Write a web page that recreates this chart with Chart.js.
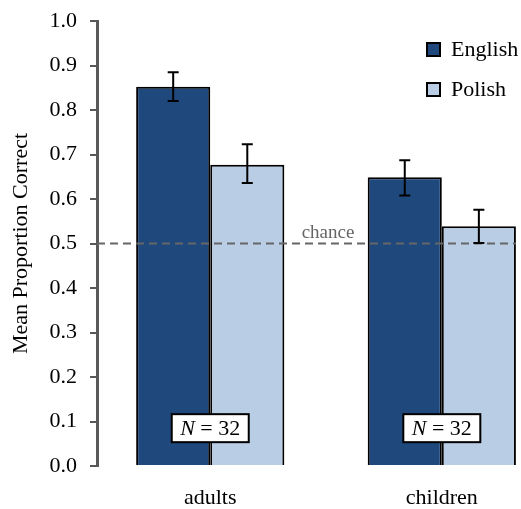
<!DOCTYPE html>
<html>
<head>
<meta charset="utf-8">
<script src="https://cdn.jsdelivr.net/npm/chart.js@4"></script>
<style>
  html, body { margin: 0; padding: 0; background: #fff; }
  #wrap { width: 521px; height: 509px; position: relative; }
</style>
</head>
<body>
<div id="wrap"><canvas id="chart"></canvas></div>
<script>
// data
const categories = ['adults', 'children'];
const seriesNames = ['English', 'Polish'];
const englishMeans = [0.852, 0.649];
const polishMeans = [0.677, 0.539];
const englishLow = [0.820, 0.608];
const englishHigh = [0.885, 0.687];
const polishLow = [0.636, 0.501];
const polishHigh = [0.723, 0.576];
const yTicks = [0, 0.1, 0.2, 0.3, 0.4, 0.5, 0.6, 0.7, 0.8, 0.9, 1.0];
const chanceLevel = 0.5;
const sampleSizes = [32, 32];

const FONT = "'Liberation Serif', 'Times New Roman', serif";
const GREY = '#595959';

function toPoints(vals) {
    return vals.map((v, i) => ({ x: i, y: v }));
}

// error bars, chance line, N boxes and legend drawn on top
const extras = {
    id: 'extras',
    afterDatasetsDraw(chart) {
        const ctx = chart.ctx;
        const xs = chart.scales.x;
        const ys = chart.scales.y;
        const area = chart.chartArea;

        // chance line
        const cy = ys.getPixelForValue(chanceLevel);
        const lastBar = chart.getDatasetMeta(1).data[1];
        ctx.save();
        ctx.strokeStyle = '#666666';
        ctx.lineWidth = 2;
        ctx.setLineDash([8, 5]);
        ctx.beginPath();
        ctx.moveTo(area.left, cy);
        ctx.lineTo(lastBar.x + lastBar.width / 2, cy);
        ctx.stroke();
        ctx.setLineDash([]);
        ctx.fillStyle = '#666666';
        ctx.font = '19px ' + FONT;
        ctx.textAlign = 'center';
        ctx.textBaseline = 'bottom';
        ctx.fillText('chance', 328, cy - 1);
        ctx.restore();

        // error bars
        const lows = [englishLow, polishLow];
        const highs = [englishHigh, polishHigh];
        ctx.save();
        ctx.strokeStyle = '#000';
        ctx.lineWidth = 2;
        for (let d = 0; d < 2; d++) {
            const meta = chart.getDatasetMeta(d);
            meta.data.forEach((bar, i) => {
                const yl = ys.getPixelForValue(lows[d][i]);
                const yh = ys.getPixelForValue(highs[d][i]);
                ctx.beginPath();
                ctx.moveTo(bar.x, yl); ctx.lineTo(bar.x, yh);
                ctx.moveTo(bar.x - 5.5, yl); ctx.lineTo(bar.x + 5.5, yl);
                ctx.moveTo(bar.x - 5.5, yh); ctx.lineTo(bar.x + 5.5, yh);
                ctx.stroke();
            });
        }
        ctx.restore();

        // N = 32 boxes
        ctx.save();
        categories.forEach((c, i) => {
            const x = xs.getPixelForValue(i);
            const y = ys.getPixelForValue(0.085);
            const w = 77, h = 28;
            ctx.fillStyle = '#fff';
            ctx.fillRect(x - w / 2, y - h / 2, w, h);
            ctx.strokeStyle = '#000';
            ctx.lineWidth = 2;
            ctx.strokeRect(x - w / 2, y - h / 2, w, h);
            ctx.fillStyle = '#000';
            ctx.textBaseline = 'middle';
            ctx.textAlign = 'left';
            ctx.font = 'italic 22px ' + FONT;
            const nW = ctx.measureText('N').width;
            ctx.font = '22px ' + FONT;
            const rest = ' = ' + sampleSizes[i];
            const rW = ctx.measureText(rest).width;
            const start = x - (nW + rW) / 2;
            ctx.font = 'italic 22px ' + FONT;
            ctx.fillText('N', start, y + 1);
            ctx.font = '22px ' + FONT;
            ctx.fillText(rest, start + nW, y + 1);
        });
        ctx.restore();

        // legend
        ctx.save();
        const colors = [chart.data.datasets[0].backgroundColor, chart.data.datasets[1].backgroundColor];
        seriesNames.forEach((name, i) => {
            const top = 43 + i * 40;
            ctx.fillStyle = colors[i];
            ctx.fillRect(427, top, 13, 13);
            ctx.strokeStyle = '#000';
            ctx.lineWidth = 2;
            ctx.strokeRect(427, top, 13, 13);
            ctx.fillStyle = '#000';
            ctx.font = '22px ' + FONT;
            ctx.textAlign = 'left';
            ctx.textBaseline = 'middle';
            ctx.fillText(name, 451, top + 7);
        });
        ctx.restore();
    }
};

new Chart(document.getElementById('chart'), {
    type: 'bar',
    data: {
        datasets: [
            {
                label: seriesNames[0],
                data: toPoints(englishMeans),
                backgroundColor: '#1F497D',
                borderColor: '#000',
                borderWidth: 2,
                categoryPercentage: 0.64,
                barPercentage: 1.0
            },
            {
                label: seriesNames[1],
                data: toPoints(polishMeans),
                backgroundColor: '#B9CDE5',
                borderColor: '#000',
                borderWidth: 2,
                categoryPercentage: 0.64,
                barPercentage: 1.0
            }
        ]
    },
    options: {
        responsive: true,
        maintainAspectRatio: false,
        animation: false,
        layout: { padding: { top: 21, right: 3, left: 0, bottom: 0 } },
        plugins: {
            legend: { display: false },
            tooltip: { enabled: false }
        },
        scales: {
            x: {
                type: 'linear',
                min: -0.489,
                max: 1.329,
                offset: false,
                grid: { display: false },
                border: { display: false },
                afterBuildTicks(scale) {
                    scale.ticks = categories.map((c, i) => ({ value: i }));
                },
                afterFit(scale) { scale.height = 43; },
                ticks: {
                    padding: 11,
                    color: '#000',
                    font: { family: FONT, size: 22 },
                    callback: (v) => categories[v]
                }
            },
            y: {
                min: 0,
                max: 1,
                afterBuildTicks(scale) {
                    scale.ticks = yTicks.map(v => ({ value: v }));
                },
                afterFit(scale) { scale.width = 97; },
                grid: {
                    drawOnChartArea: false,
                    drawTicks: true,
                    tickLength: 7,
                    color: GREY,
                    lineWidth: 2
                },
                border: { display: true, color: GREY, width: 3 },
                ticks: {
                    padding: 13,
                    color: '#000',
                    font: { family: FONT, size: 22, lineHeight: 0.6 },
                    callback: (v) => v.toFixed(1)
                },
                title: {
                    display: true,
                    text: 'Mean Proportion Correct',
                    color: '#000',
                    font: { family: FONT, size: 22 },
                    padding: { top: 8, bottom: 0 }
                }
            }
        }
    },
    plugins: [extras]
});
</script>
</body>
</html>
